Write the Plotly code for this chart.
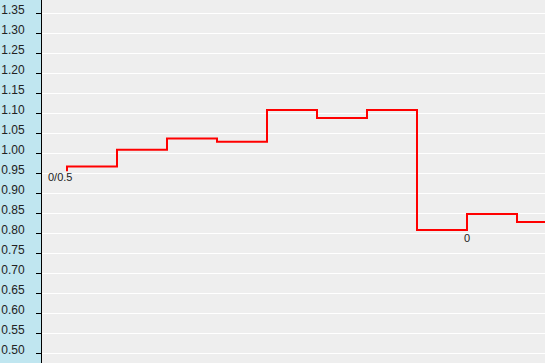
import plotly.graph_objects as go

# Data
x_index = list(range(11))
values = [0.955, 0.967, 1.009, 1.037, 1.029, 1.108, 1.088, 1.108, 0.808, 0.848, 0.828]
point_labels = ["0/0.5", "", "", "", "", "", "", "", "0", "", ""]
y_ticks = [round(0.50 + 0.05 * i, 2) for i in range(18)]
y_tick_text = [f"{v:.2f}" for v in y_ticks]

fig = go.Figure()
fig.add_trace(go.Scatter(
    x=x_index, y=values, mode="lines",
    line=dict(color="#ff0000", width=2, shape="vh"),
    hoverinfo="skip", showlegend=False,
))

label_shifts = {0: (-7.5, -5.5), 8: (0, -7.5)}
for i, t in enumerate(point_labels):
    if t:
        xs, ys = label_shifts.get(i, (0, -7))
        fig.add_annotation(
            x=x_index[i], y=values[i], text=t, showarrow=False,
            xanchor="center", yanchor="middle", xshift=xs, yshift=ys,
            font=dict(family="Liberation Sans, Arial, sans-serif", size=11, color="#222222"),
        )

fig.update_layout(
    width=545, height=363,
    margin=dict(l=42, r=0, t=0, b=0),
    paper_bgcolor="#c0e6f0",
    plot_bgcolor="#eeeeee",
    showlegend=False,
    xaxis=dict(range=[-0.5, 9.56], showgrid=False, showticklabels=False,
               zeroline=False, ticks="", showline=False, fixedrange=True),
    yaxis=dict(range=[0.4758, 1.3833], tickmode="array", tickvals=y_ticks,
               ticktext=y_tick_text, showgrid=True, gridcolor="#ffffff", gridwidth=1,
               zeroline=False, showline=True, linecolor="#000000", linewidth=1,
               ticks="outside", ticklen=5, tickcolor="#000000", tickwidth=1,
               ticklabelshift=-4, ticklabelstandoff=9,
               tickfont=dict(family="Liberation Sans Narrow, Liberation Sans, Arial, sans-serif",
                             size=12, color="#222222"),
               fixedrange=True),
)

fig.write_html("out.html", config={"displayModeBar": False})
